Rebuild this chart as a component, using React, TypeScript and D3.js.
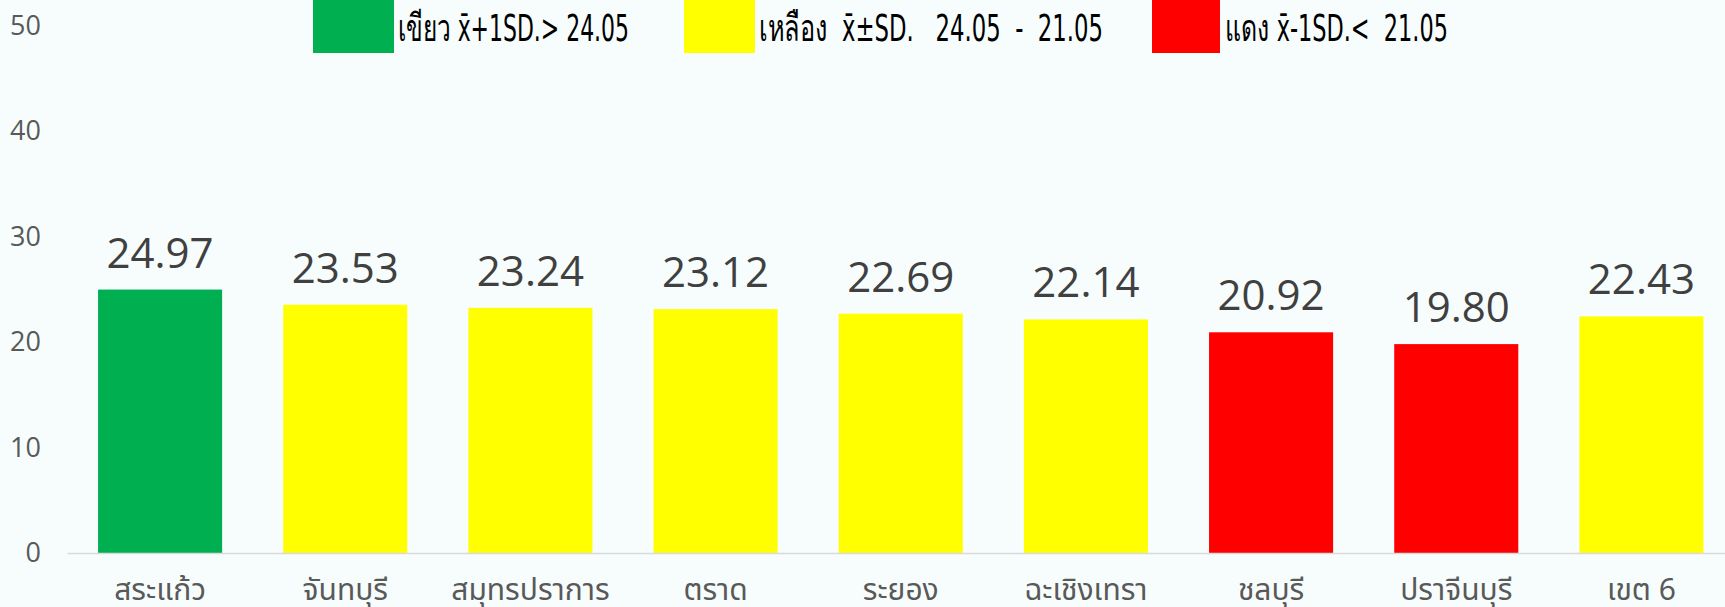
import { useEffect } from 'react'
import * as d3 from 'd3'

const W = 1725
const H = 607
const M = { top: 25.5, right: -9, bottom: 54, left: 67.5 }

const categories = ['สระแก้ว', 'จันทบุรี', 'สมุทรปราการ', 'ตราด', 'ระยอง', 'ฉะเชิงเทรา', 'ชลบุรี', 'ปราจีนบุรี', 'เขต 6']
const values = [24.97, 23.53, 23.24, 23.12, 22.69, 22.14, 20.92, 19.8, 22.43]
const yTicks = [0, 10, 20, 30, 40, 50]
const upper = 24.05
const lower = 21.05

const legendItems = [
  { label: 'เขียว x̄+1SD.> 24.05', color: '#00B050', box: [313, 81], text: [398, 231] },
  { label: 'เหลือง  x̄±SD.   24.05  -  21.05', color: '#FFFF00', box: [684, 71], text: [759, 344] },
  { label: 'แดง x̄-1SD.<  21.05', color: '#FF0000', box: [1152, 68], text: [1225, 223] },
]

const colorFor = (v: number) => (v > upper ? '#00B050' : v < lower ? '#FF0000' : '#FFFF00')

export default function App() {
  useEffect(() => {
    document.body.style.margin = '0'
  }, [])

  const x = d3.scaleBand<string>()
    .domain(categories)
    .range([M.left, W - M.right])
    .paddingInner(0.33)
    .paddingOuter(0.165)
  const y = d3.scaleLinear().domain([0, 50]).range([H - M.bottom, M.top])

  return (
    <svg width={W} height={H} style={{ display: 'block', background: '#F7FDFD' }}>
      <rect width={W} height={H} fill="#F7FDFD" />

      {/* y axis labels */}
      {yTicks.map(t => (
        <text key={t} x={41} y={y(t)} dy="0.35em" textAnchor="end"
          fontFamily="'Open Sans', sans-serif" fontSize={27} fill="#595959">{t}</text>
      ))}

      {/* bars */}
      {categories.map((c, i) => (
        <rect key={c} x={x(c)} y={y(values[i])} width={x.bandwidth()} height={y(0) - y(values[i])}
          fill={colorFor(values[i])} />
      ))}

      {/* baseline */}
      <line x1={M.left} x2={W} y1={y(0) + 0.5} y2={y(0) + 0.5} stroke="#D9D9D9" strokeWidth={1.5} />

      {/* value labels */}
      {categories.map((c, i) => (
        <text key={c} x={(x(c) ?? 0) + x.bandwidth() / 2} y={y(values[i]) - 22} textAnchor="middle"
          fontFamily="'Open Sans', sans-serif" fontSize={42} fill="#404040">{values[i].toFixed(2)}</text>
      ))}

      {/* category labels */}
      {categories.map(c => (
        <text key={c} x={(x(c) ?? 0) + x.bandwidth() / 2} y={600} textAnchor="middle"
          fontFamily="'Noto Sans Thai', Tahoma, sans-serif" fontSize={30} fill="#595959">{c}</text>
      ))}

      {/* legend */}
      {legendItems.map(d => (
        <g key={d.label}>
          <rect x={d.box[0]} y={0} width={d.box[1]} height={53} fill={d.color} />
          <text x={d.text[0]} y={28} dy="0.35em" textLength={d.text[1]} lengthAdjust="spacingAndGlyphs"
            fontFamily="'Liberation Sans Narrow', 'DejaVu Sans Condensed', sans-serif" fontSize={38}
            fill="#000" style={{ whiteSpace: 'pre' }}>{d.label}</text>
        </g>
      ))}
    </svg>
  )
}
